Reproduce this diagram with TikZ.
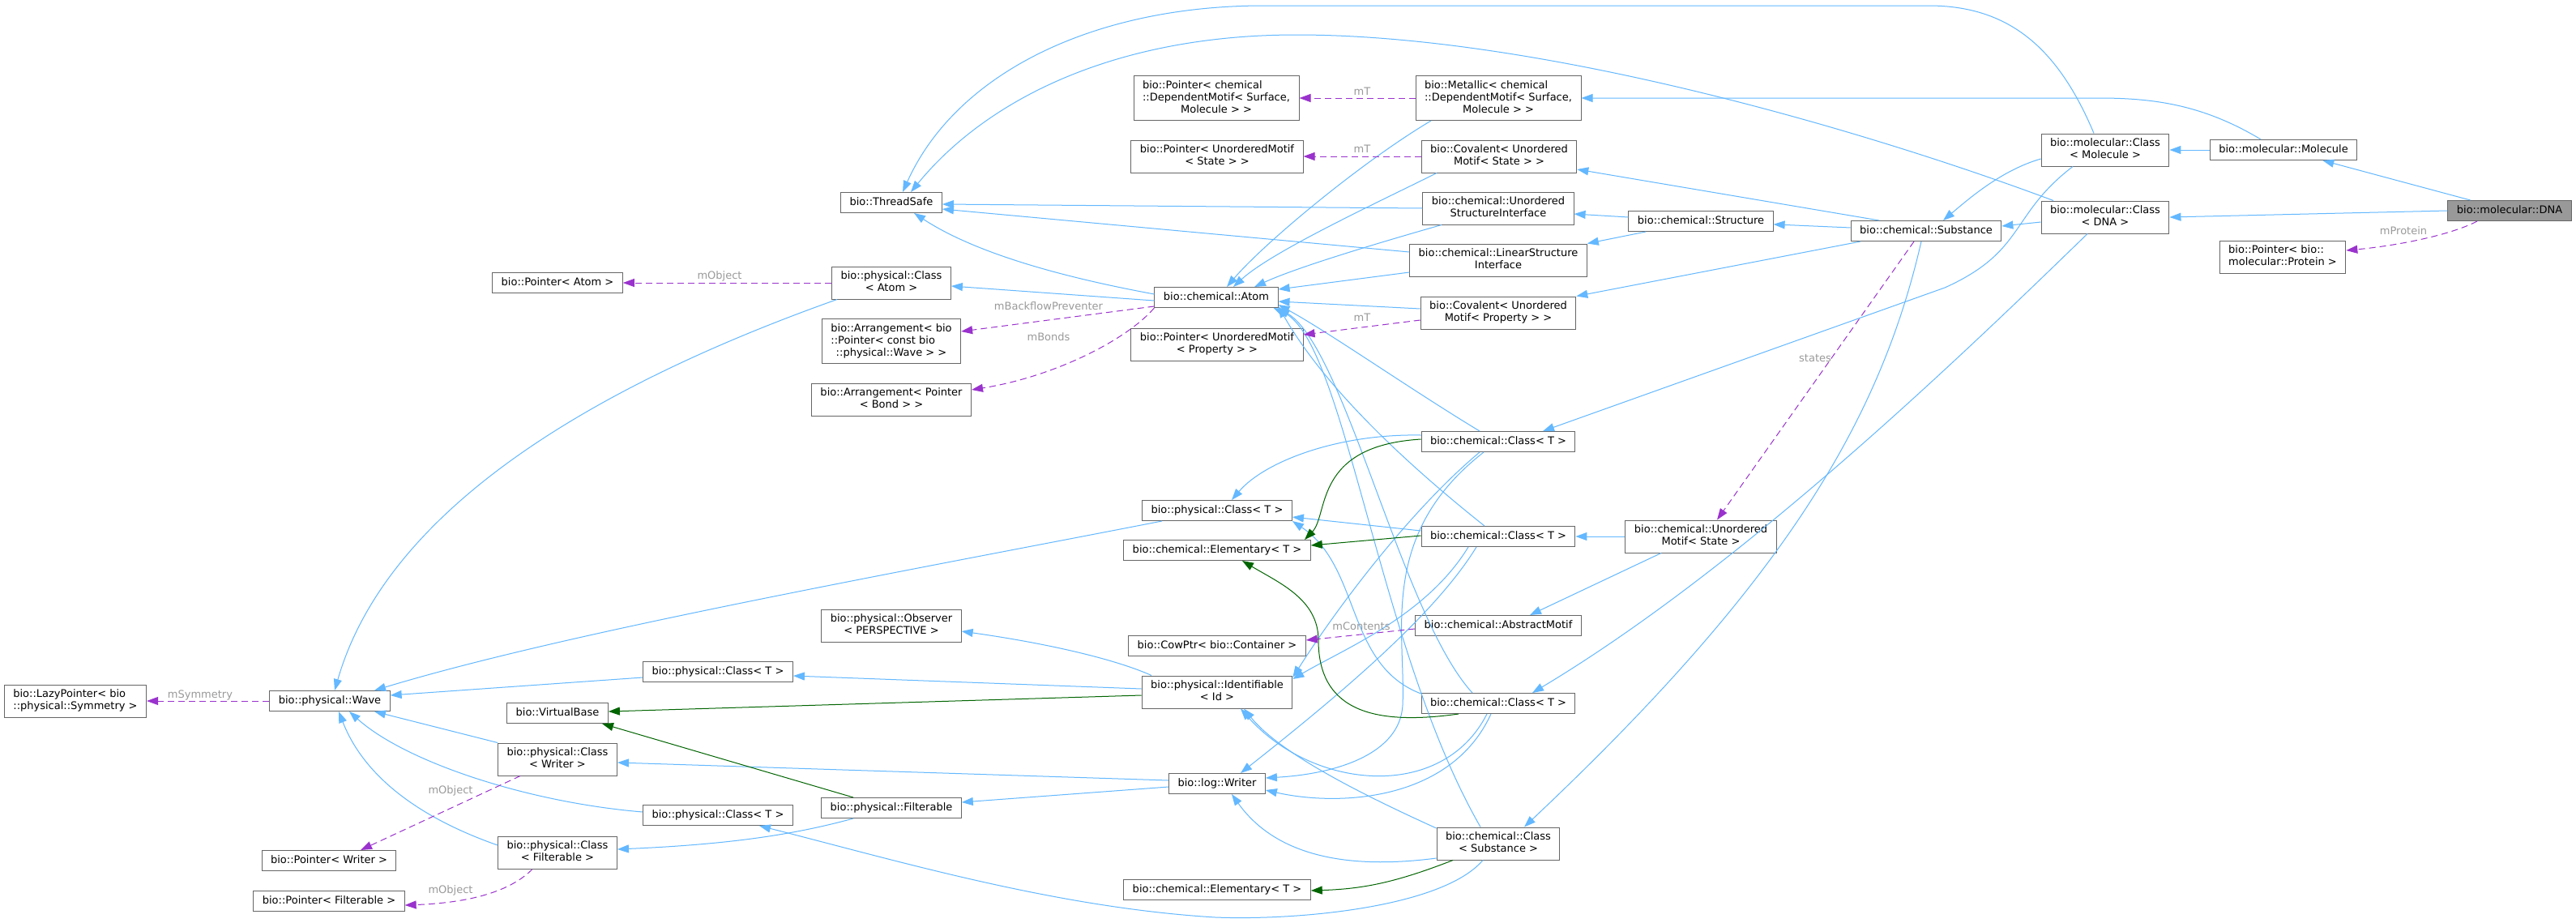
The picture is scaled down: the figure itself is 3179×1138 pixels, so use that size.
\documentclass[tikz,border=0pt]{standalone}
\usepackage{fontspec}
\setmainfont{DejaVu Sans}
\usetikzlibrary{arrows.meta}
\definecolor{dxblue}{HTML}{63B8FF}
\definecolor{dxgreen}{HTML}{006400}
\definecolor{dxpurple}{HTML}{9A32CD}
\definecolor{dxgray}{HTML}{666666}
\definecolor{dxlabel}{HTML}{9A9A9A}
\definecolor{dxfill}{HTML}{999999}
\newcommand{\dxbox}[1]{\begin{tabular}{@{}l@{}}#1\end{tabular}}
\newcommand{\dxc}[1]{\multicolumn{1}{@{}c@{}}{#1}}
\begin{document}
\begin{tikzpicture}[x=1pt,y=-1pt,
		cls/.style={draw=dxgray, fill=white, line width=1pt, inner xsep=11pt, inner ysep=5pt, font=\fontsize{13}{15}\selectfont},
		inh/.style={draw=dxblue, line width=1pt, -{Triangle[length=14pt,width=10pt]}},
		prot/.style={draw=dxgreen, line width=1pt, -{Triangle[length=14pt,width=10pt]}},
		member/.style={draw=dxpurple, line width=1pt, dash pattern=on 8pt off 5pt, -{Triangle[length=14pt,width=10pt]}},
		lbl/.style={text=dxlabel, inner sep=0pt, font=\fontsize{13}{15}\selectfont}]
		%Hintergrund
		\useasboundingbox (0,0) rectangle (3179,1138);
		\fill [fill=white] (0,0) rectangle (3179,1138);
		%Klassen
		\node[cls, fill=dxfill] (dna) at (3097,260) {\dxbox{bio::molecular::DNA}};
		\node[cls] (mol) at (2818,185) {\dxbox{bio::molecular::Molecule}};
		\node[cls] (clsmol) at (2598,185) {\dxbox{bio::molecular::Class\\\dxc{< Molecule >}}};
		\node[cls] (clsdna) at (2598,268) {\dxbox{bio::molecular::Class\\\dxc{< DNA >}}};
		\node[cls] (ptrprot) at (2817,317) {\dxbox{bio::Pointer< bio::\\\dxc{molecular::Protein >}}};
		\node[cls] (subst) at (2377,285) {\dxbox{bio::chemical::Substance}};
		\node[cls] (struc) at (2099,273) {\dxbox{bio::chemical::Structure}};
		\node[cls] (metal) at (1849,121) {\dxbox{bio::Metallic< chemical\\::DependentMotif< Surface,\\\dxc{Molecule > >}}};
		\node[cls] (covst) at (1850,193) {\dxbox{bio::Covalent< Unordered\\\dxc{Motif< State > >}}};
		\node[cls] (usi) at (1849,257) {\dxbox{bio::chemical::Unordered\\\dxc{StructureInterface}}};
		\node[cls] (lsi) at (1849,321) {\dxbox{bio::chemical::LinearStructure\\\dxc{Interface}}};
		\node[cls] (covpr) at (1849,386) {\dxbox{bio::Covalent< Unordered\\\dxc{Motif< Property > >}}};
		\node[cls] (ptrdep) at (1501,121) {\dxbox{bio::Pointer< chemical\\::DependentMotif< Surface,\\\dxc{Molecule > >}}};
		\node[cls] (ptrst) at (1502,193) {\dxbox{bio::Pointer< UnorderedMotif\\\dxc{< State > >}}};
		\node[cls] (ptrpr) at (1502,425) {\dxbox{bio::Pointer< UnorderedMotif\\\dxc{< Property > >}}};
		\node[cls] (tsafe) at (1100,250) {\dxbox{bio::ThreadSafe}};
		\node[cls] (clsatom) at (1100,349) {\dxbox{bio::physical::Class\\\dxc{< Atom >}}};
		\node[cls] (ptratom) at (688,349) {\dxbox{bio::Pointer< Atom >}};
		\node[cls] (atom) at (1501,367) {\dxbox{bio::chemical::Atom}};
		\node[cls] (arrwave) at (1100,421) {\dxbox{bio::Arrangement< bio\\::Pointer< const bio\\\dxc{::physical::Wave > >}}};
		\node[cls] (arrbond) at (1100,493) {\dxbox{bio::Arrangement< Pointer\\\dxc{< Bond > >}}};
		\node[cls] (chemA) at (1849,545) {\dxbox{bio::chemical::Class< T >}};
		\node[cls] (chemB) at (1849,662) {\dxbox{bio::chemical::Class< T >}};
		\node[cls] (chemC) at (1849,868) {\dxbox{bio::chemical::Class< T >}};
		\node[cls] (chemSub) at (1849,1041) {\dxbox{bio::chemical::Class\\\dxc{< Substance >}}};
		\node[cls] (umotif) at (2099,662) {\dxbox{bio::chemical::Unordered\\\dxc{Motif< State >}}};
		\node[cls] (amotif) at (1849,772) {\dxbox{bio::chemical::AbstractMotif}};
		\node[cls] (physT) at (1502,630) {\dxbox{bio::physical::Class< T >}};
		\node[cls] (elemA) at (1502,679) {\dxbox{bio::chemical::Elementary< T >}};
		\node[cls] (observer) at (1100,772) {\dxbox{bio::physical::Observer\\\dxc{< PERSPECTIVE >}}};
		\node[cls] (cowptr) at (1502,797) {\dxbox{bio::CowPtr< bio::Container >}};
		\node[cls] (ident) at (1502,854) {\dxbox{bio::physical::Identifiable\\\dxc{< Id >}}};
		\node[cls] (writer) at (1502,967) {\dxbox{bio::log::Writer}};
		\node[cls] (elemB) at (1502,1098) {\dxbox{bio::chemical::Elementary< T >}};
		\node[cls] (filt) at (1100,997) {\dxbox{bio::physical::Filterable}};
		\node[cls] (physMid) at (886,829) {\dxbox{bio::physical::Class< T >}};
		\node[cls] (physLow) at (886,1006) {\dxbox{bio::physical::Class< T >}};
		\node[cls] (vbase) at (688,880) {\dxbox{bio::VirtualBase}};
		\node[cls] (clswriter) at (688,937) {\dxbox{bio::physical::Class\\\dxc{< Writer >}}};
		\node[cls] (clsfilt) at (688,1052) {\dxbox{bio::physical::Class\\\dxc{< Filterable >}}};
		\node[cls] (ptrwriter) at (406,1062) {\dxbox{bio::Pointer< Writer >}};
		\node[cls] (ptrfilt) at (406,1112) {\dxbox{bio::Pointer< Filterable >}};
		\node[cls] (wave) at (407,865) {\dxbox{bio::physical::Wave}};
		\node[cls] (lazy) at (93,865) {\dxbox{bio::LazyPointer< bio\\\dxc{::physical::Symmetry >}}};
		%Vererbung (public)
		\draw[inh] (dna) -- (mol);
		\draw[inh] (dna.west) -- (clsdna.east);
		\draw[inh] (mol) -- (clsmol);
		\draw[inh] ([xshift=-28pt]mol.north) .. controls (2720,130) and (2660,121) .. (2590,121) -- (metal.east);
		\draw[inh] ([yshift=-11pt]clsmol.west) .. controls (2470,210) and (2430,245) .. ([xshift=21pt]subst.north);
		\draw[inh] ([xshift=-14pt]clsmol.north) .. controls (2540,60) and (2480,7) .. (2380,7) -- (1560,7) .. controls (1350,7) and (1180,90) .. ([xshift=14pt]tsafe.north);
		\draw[inh] ([xshift=-40pt]clsmol.south) .. controls (2480,265) and (2500,310) .. (2400,355) -- ([xshift=55pt]chemA.north);
		\draw[inh] ([xshift=-64pt]clsdna.north) .. controls (2300,160) and (1900,43) .. (1600,43) .. controls (1380,43) and (1220,120) .. ([xshift=24pt]tsafe.north);
		\draw[inh] ([yshift=-6pt]clsdna.west) -- ([yshift=6pt]subst.east);
		\draw[inh] ([xshift=-22pt]clsdna.south) .. controls (2420,440) and (2150,700) .. ([xshift=42pt]chemC.north);
		\draw[inh] (subst) -- (struc);
		\draw[inh] ([xshift=-58pt]subst.north) -- ([yshift=-16pt]covst.east);
		\draw[inh] ([xshift=-81pt]subst.south) -- (covpr.north east);
		\draw[inh] ([xshift=-6pt]subst.south) .. controls (2320,520) and (2200,720) .. ([xshift=32pt]chemSub.north);
		\draw[inh] ([yshift=5pt]struc.west) -- ([yshift=-7pt]usi.east);
		\draw[inh] ([xshift=-68pt]struc.south) -- (lsi.north east);
		\draw[inh] ([xshift=-83pt]metal.south) .. controls (1680,200) and (1560,300) .. ([xshift=13pt]atom.north);
		\draw[inh] ([xshift=-77pt]covst.south) .. controls (1700,250) and (1570,310) .. ([xshift=21pt]atom.north);
		\draw[inh] ([xshift=-70pt]usi.south) .. controls (1700,300) and (1600,330) .. ([xshift=47pt]atom.north);
		\draw[inh] (usi.west) -- ([yshift=-2pt]tsafe.east);
		\draw[inh] ([yshift=10pt]lsi.west) -- ([yshift=-8pt]tsafe.east);
		\draw[inh] ([yshift=-15pt]lsi.west) -- ([yshift=10pt]atom.east);
		\draw[inh] ([yshift=5pt]covpr.west) -- ([yshift=-5pt]atom.east);
		\draw[inh] ([yshift=4pt]atom.west) .. controls (1300,340) and (1200,310) .. ([xshift=28pt]tsafe.south);
		\draw[inh] ([yshift=-4pt]atom.west) -- ([yshift=-4pt]clsatom.east);
		\draw[inh] ([xshift=-67pt]clsatom.south) .. controls (750,470) and (480,620) .. ([xshift=6pt]wave.north);
		\draw[inh] ([xshift=-68pt]physT.south) .. controls (1100,708) and (700,780) .. ([xshift=55pt]wave.north);
		\draw[inh] ([yshift=-7pt]physMid.west) -- ([yshift=7pt]wave.east);
		\draw[inh] (clswriter.north west) -- ([xshift=55pt]wave.south);
		\draw[inh] ([yshift=4pt]physLow.west) .. controls (650,990) and (500,940) .. ([xshift=24pt]wave.south);
		\draw[inh] ([yshift=9pt]clsfilt.west) .. controls (520,1010) and (450,960) .. ([xshift=11pt]wave.south);
		\draw[inh] ([yshift=4pt]writer.west) -- ([yshift=-4pt]clswriter.east);
		\draw[inh] ([yshift=-4pt]writer.west) -- ([yshift=7pt]filt.east);
		\draw[inh] ([xshift=-81pt]ident.north) .. controls (1380,815) and (1300,795) .. ([yshift=-7pt]observer.east);
		\draw[inh] ([yshift=4pt]ident.west) -- ([yshift=-5pt]physMid.east);
		\draw[inh] ([xshift=-47pt]filt.south) .. controls (980,1030) and (900,1042) .. ([yshift=4pt]clsfilt.east);
		\draw[inh] (umotif) -- (chemB);
		\draw[inh] ([xshift=-49pt]umotif.south) -- ([xshift=39pt]amotif.north);
		%chemical::Class
		\draw[inh] ([xshift=-23pt]chemA.north) .. controls (1740,480) and (1640,410) .. ([yshift=-9pt]atom.east);
		\draw[inh] ([yshift=8pt]chemA.west) .. controls (1650,535) and (1560,570) .. ([xshift=18pt]physT.north);
		\draw[inh] ([xshift=-23pt]chemA.south) .. controls (1740,630) and (1650,750) .. ([yshift=18pt]ident.east);
		\draw[inh] ([xshift=-18pt]chemA.south) .. controls (1700,660) and (1735,780) .. (1731,870) .. controls (1728,930) and (1650,955) .. ([yshift=7pt]writer.east);
		\draw[inh] ([xshift=-17pt]chemB.north) .. controls (1720,560) and (1630,470) .. ([yshift=-11pt]atom.east);
		\draw[inh] ([yshift=7pt]chemB.west) -- ([yshift=-8pt]physT.east);
		\draw[inh] ([xshift=-37pt]chemB.south) .. controls (1760,760) and (1660,800) .. ([yshift=16pt]ident.east);
		\draw[inh] ([xshift=-27pt]chemB.south) .. controls (1770,760) and (1650,860) .. ([xshift=29pt]writer.north);
		\draw[inh] ([xshift=-32pt]chemC.north) .. controls (1730,760) and (1660,430) .. (atom.south east);
		\draw[inh] ([yshift=12pt]chemC.west) .. controls (1660,820) and (1680,700) .. (physT.south east);
		\draw[inh] ([xshift=-14pt]chemC.south) .. controls (1780,990) and (1620,975) .. ([xshift=29pt]ident.south);
		\draw[inh] ([xshift=-9pt]chemC.south) .. controls (1790,990) and (1650,995) .. ([yshift=-8pt]writer.east);
		\draw[inh] ([xshift=-22pt]chemSub.north) .. controls (1700,800) and (1660,420) .. ([xshift=-6pt]atom.south east);
		\draw[inh] ([xshift=-19pt]chemSub.south) .. controls (1780,1120) and (1600,1136) .. (1500,1132) .. controls (1300,1120) and (1100,1060) .. ([xshift=51pt]physLow.south);
		\draw[inh] ([yshift=19pt]chemSub.west) .. controls (1680,980) and (1580,930) .. ([xshift=33pt]ident.south);
		\draw[inh] ([yshift=-18pt]chemSub.west) .. controls (1650,1075) and (1570,1050) .. ([xshift=18pt]writer.south);
		%Vererbung (protected)
		\draw[prot] ([yshift=-4pt]ident.west) -- ([yshift=2pt]vbase.east);
		\draw[prot] ([xshift=-47pt]filt.north) -- ([xshift=55pt]vbase.south);
		\draw[prot] ([yshift=3pt]chemA.west) .. controls (1620,550) and (1640,635) .. ([xshift=108pt]elemA.north);
		\draw[prot] ([yshift=1pt]chemB.west) -- ([yshift=6pt]elemA.east);
		\draw[prot] ([xshift=-49pt]chemC.south) .. controls (1700,895) and (1627,880) .. (1627,790) .. controls (1627,740) and (1580,720) .. ([xshift=31pt]elemA.south);
		\draw[prot] ([xshift=-56pt]chemSub.south) .. controls (1720,1090) and (1680,1097) .. ([yshift=-1pt]elemB.east);
		%Member
		\draw[member] ([xshift=-40pt]dna.south) .. controls (3020,292) and (2950,304) .. ([yshift=8pt]ptrprot.east);
		\draw[member] ([xshift=-15pt]subst.south) -- ([xshift=20pt]umotif.north);
		\draw[member] (metal) -- (ptrdep);
		\draw[member] (covst) -- (ptrst);
		\draw[member] ([yshift=-9pt]covpr.west) -- ([yshift=12pt]ptrpr.east);
		\draw[member] ([yshift=-11pt]atom.west) -- ([yshift=12pt]arrwave.east);
		\draw[member] (atom.south west) .. controls (1390,420) and (1300,465) .. ([yshift=12pt]arrbond.east);
		\draw[member] (clsatom) -- (ptratom);
		\draw[member] (wave) -- (lazy);
		\draw[member] ([xshift=-46pt]clswriter.south) -- ([xshift=39pt]ptrwriter.north);
		\draw[member] ([xshift=-31pt]clsfilt.south) .. controls (630,1100) and (580,1114) .. ([yshift=-5pt]ptrfilt.east);
		\draw[member] ([yshift=-4pt]amotif.west) -- ([yshift=7pt]cowptr.east);
		%Beschriftungen
		\node[lbl] (lprot) at (2966,285) {mProtein};
		\node[lbl] (lstates) at (2240,442) {states};
		\node[lbl] (lmt1) at (1681,113) {mT};
		\node[lbl] (lmt2) at (1681,184) {mT};
		\node[lbl] (lmt3) at (1681,392) {mT};
		\node[lbl] (lback) at (1294,378) {mBackflowPreventer};
		\node[lbl] (lbonds) at (1294,416) {mBonds};
		\node[lbl] (lobj1) at (888,341) {mObject};
		\node[lbl] (lsym) at (247,858) {mSymmetry};
		\node[lbl] (lobj2) at (556,976) {mObject};
		\node[lbl] (lobj3) at (556,1099) {mObject};
		\node[lbl] (lcont) at (1680,773) {mContents};
	\end{tikzpicture}
\end{document}
